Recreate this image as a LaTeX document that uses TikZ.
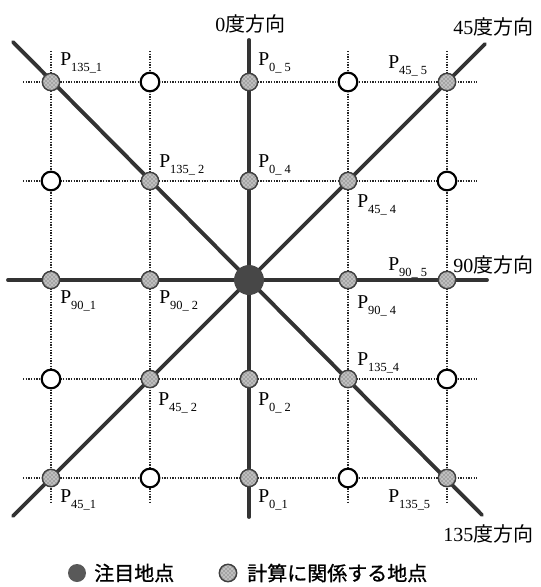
\documentclass[tikz,border=0pt]{standalone}
\usepackage{fontspec}
\setmainfont{Liberation Serif}
\newfontfamily\jp{Noto Sans CJK JP}
\newfontfamily\jpb[FakeBold=1]{Noto Sans CJK JP}
\usetikzlibrary{patterns}
\newcommand\plab[1]{P\raisebox{-4.8pt}{\fontsize{9.3pt}{10pt}\selectfont #1}}
\tikzset{
  calcpt/.style={circle, inner sep=0pt, minimum size=13pt, draw=black!75, line width=1.1pt,
    preaction={fill=gray!50}, pattern=crosshatch dots, pattern color=black!70},
  openpt/.style={circle, inner sep=0pt, minimum size=14pt, draw=black, line width=1.6pt, fill=white},
  focuspt/.style={circle, inner sep=0pt, minimum size=22.5pt, fill=black!72},
  legdot/.style={circle, inner sep=0pt, minimum size=13.5pt, fill=black!65},
  dirline/.style={line width=2.9pt, draw=black!80, line cap=round},
  gridline/.style={line width=1.1pt, draw=black!85, dash pattern=on 1pt off 1pt},
  plabel/.style={inner sep=0pt, anchor=base west, font=\fontsize{14.7pt}{16pt}\selectfont},
  dirlabel/.style={inner sep=0pt, anchor=west, font=\fontsize{15pt}{17pt}\selectfont},
  legtext/.style={inner sep=0pt, anchor=west, font=\fontsize{15pt}{17pt}\selectfont\jpb}
}
\begin{document}
\begin{tikzpicture}[x=0.75pt,y=-0.75pt]
\useasboundingbox (0,0) rectangle (541,587);
% dotted grid
\foreach \y in {82,181,379,478} { \draw[gridline] (23,\y) -- (477,\y); }
\foreach \x in {51,150,348,447} { \draw[gridline] (\x,51) -- (\x,503); }
% direction lines
\coordinate (d0a) at (249,40);
\coordinate (d0b) at (249,517);
\coordinate (d90a) at (8,280);
\coordinate (d90b) at (487,280);
\coordinate (d45a) at (13,516);
\coordinate (d45b) at (485,44);
\coordinate (d135a) at (13,42);
\coordinate (d135b) at (482,515);
\draw[dirline] (d0a) -- (d0b);
\draw[dirline] (d90a) -- (d90b);
\draw[dirline] (d45a) -- (d45b);
\draw[dirline] (d135a) -- (d135b);
% row 1
\node[calcpt] (p135-1) at (51,82) {};
\node[openpt] (o12) at (150,82) {};
\node[calcpt] (p0-5) at (249,82) {};
\node[openpt] (o14) at (348,82) {};
\node[calcpt] (p45-5) at (447,82) {};
% row 2
\node[openpt] (o21) at (51,181) {};
\node[calcpt] (p135-2) at (150,181) {};
\node[calcpt] (p0-4) at (249,181) {};
\node[calcpt] (p45-4) at (348,181) {};
\node[openpt] (o25) at (447,181) {};
% row 3
\node[calcpt] (p90-1) at (51,280) {};
\node[calcpt] (p90-2) at (150,280) {};
\node[focuspt] (ctr) at (249,280) {};
\node[calcpt] (p90-4) at (348,280) {};
\node[calcpt] (p90-5) at (447,280) {};
% row 4
\node[openpt] (o41) at (51,379) {};
\node[calcpt] (p45-2) at (150,379) {};
\node[calcpt] (p0-2) at (249,379) {};
\node[calcpt] (p135-4) at (348,379) {};
\node[openpt] (o45) at (447,379) {};
% row 5
\node[calcpt] (p45-1) at (51,478) {};
\node[openpt] (o52) at (150,478) {};
\node[calcpt] (p0-1) at (249,478) {};
\node[openpt] (o54) at (348,478) {};
\node[calcpt] (p135-5) at (447,478) {};
% labels
\node[plabel] (l135-1) at (60,65) {\plab{135\_1}};
\node[plabel] (l0-5) at (258,65) {\plab{0\_ 5}};
\node[plabel] (l45-5) at (388,68) {\plab{45\_ 5}};
\node[plabel] (l135-2) at (159,167) {\plab{135\_ 2}};
\node[plabel] (l0-4) at (258,167) {\plab{0\_ 4}};
\node[plabel] (l45-4) at (357,207) {\plab{45\_ 4}};
\node[plabel] (l90-1) at (60,303) {\plab{90\_1}};
\node[plabel] (l90-2) at (159,303) {\plab{90\_ 2}};
\node[plabel] (l90-4) at (357,308) {\plab{90\_ 4}};
\node[plabel] (l90-5) at (388,270) {\plab{90\_ 5}};
\node[plabel] (l135-4) at (357,365) {\plab{135\_4}};
\node[plabel] (l45-2) at (158,405) {\plab{45\_ 2}};
\node[plabel] (l0-2) at (258,405) {\plab{0\_ 2}};
\node[plabel] (l45-1) at (60,502) {\plab{45\_1}};
\node[plabel] (l0-1) at (258,502) {\plab{0\_1}};
\node[plabel] (l135-5) at (388,502) {\plab{135\_5}};
% direction labels
\node[dirlabel] (t0) at (215,24) {0{\jp 度方向}};
\node[dirlabel] (t45) at (453,27) {45{\jp 度方向}};
\node[dirlabel] (t90) at (453,265) {90{\jp 度方向}};
\node[dirlabel] (t135) at (443,534) {135{\jp 度方向}};
% legend
\node[legdot] (leg1) at (77,573) {};
\node[legtext] (leg1t) at (94,573) {注目地点};
\node[calcpt] (leg2) at (228,573) {};
\node[legtext] (leg2t) at (247,573) {計算に関係する地点};
\end{tikzpicture}
\end{document}
